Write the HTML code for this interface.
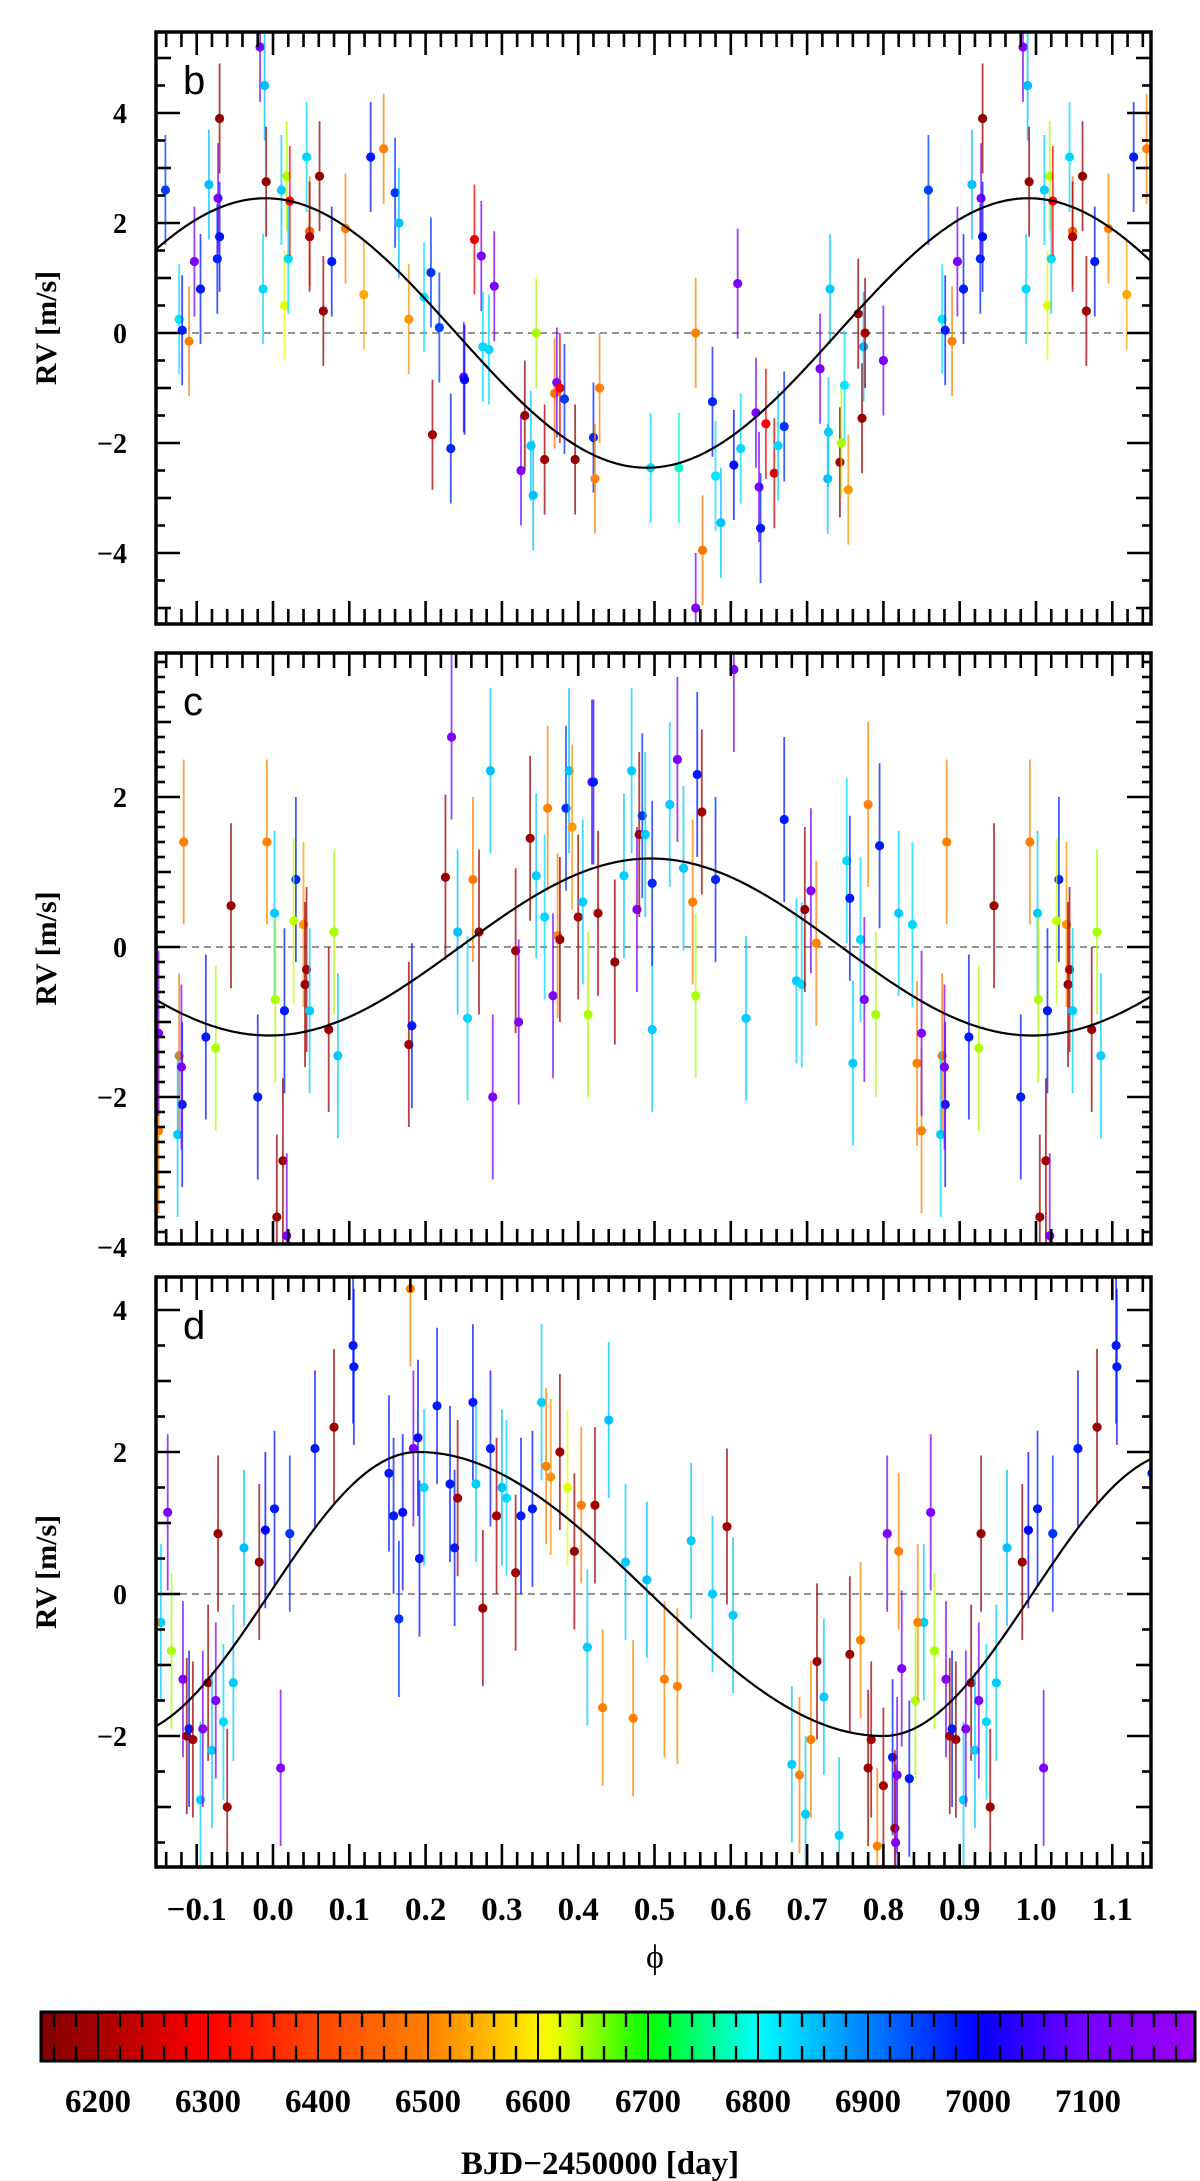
<!DOCTYPE html>
<html><head><meta charset="utf-8"><style>
html,body{margin:0;padding:0;background:#fff;}
svg{display:block;}
.tk{font-family:"Liberation Serif",serif;font-weight:bold;}
</style></head><body>
<svg id="chart" width="1200" height="2181" viewBox="0 0 1200 2181" xmlns="http://www.w3.org/2000/svg">
<defs>
<clipPath id="clipb"><rect x="156" y="32" width="995" height="592"/></clipPath>
<clipPath id="clipc"><rect x="156" y="653" width="995" height="591"/></clipPath>
<clipPath id="clipd"><rect x="156" y="1277" width="995" height="590"/></clipPath>
<linearGradient id="cmap" x1="0" x2="1" y1="0" y2="0"></linearGradient>
</defs>
</svg>
<script>
// ---------- data ----------
const bPhase=[0.859,0.877,0.897,0.905,0.916,0.927,0.928,0.930,0.930,0.983,0.987,0.989,0.991,0.011,0.015,0.018,0.020,0.022,0.044,0.048,0.048,0.061,0.066,0.077,0.095,0.119,0.128,0.145,0.160,0.165,0.178,0.198,0.207,0.209,0.218,0.233,0.250,0.251,0.264,0.273,0.275,0.283,0.290,0.325,0.330,0.338,0.341,0.345,0.356,0.369,0.372,0.376,0.382,0.396,0.420,0.422,0.428,0.495,0.532,0.554,0.554,0.563,0.576,0.580,0.587,0.604,0.613,0.633,0.637,0.639,0.646,0.657,0.662,0.670,0.717,0.727,0.728,0.730,0.743,0.745,0.749,0.754,0.772,0.774,0.776,0.800,0.609,0.881,0.890,0.767];
const bRV=[2.6,0.25,1.3,0.8,2.7,1.35,2.45,1.75,3.9,5.2,0.8,4.5,2.75,2.6,0.5,2.85,1.35,2.4,3.2,1.85,1.75,2.85,0.4,1.3,1.9,0.7,3.2,3.35,2.55,2.0,0.25,0.65,1.1,-1.85,0.1,-2.1,-0.8,-0.85,1.7,1.4,-0.25,-0.3,0.85,-2.5,-1.5,-2.05,-2.95,0.0,-2.3,-1.1,-0.9,-1.0,-1.2,-2.3,-1.9,-2.65,-1.0,-2.45,-2.45,0.0,-5.0,-3.95,-1.25,-2.6,-3.45,-2.4,-2.1,-1.45,-2.8,-3.55,-1.65,-2.55,-2.05,-1.7,-0.65,-2.65,-1.8,0.8,-2.35,-2.0,-0.95,-2.85,-1.55,-0.25,0.0,-0.5,0.9,0.05,-0.15,0.35];
const bTime=[6950,6820,7120,6980,6850,6970,7130,6990,6170,7110,6830,6850,6180,6840,6620,6640,6830,6300,6830,6450,6200,6180,6190,6980,6500,6540,6980,6500,6960,6850,6520,6820,6960,6200,6950,6970,7100,7000,6280,7120,6830,6830,7110,7120,6180,6840,6850,6640,6200,6480,7120,6300,6960,6170,6970,6500,6500,6830,6780,6500,7120,6480,6970,6820,6850,6990,6830,7110,7120,6980,6300,6260,6830,6960,7110,6850,6840,6840,6190,6640,6820,6520,6180,6860,6190,7110,7120,6980,6500,6180];

const cPhase=[0.850,0.877,0.881,0.875,0.883,0.880,0.912,0.925,0.945,0.980,0.992,0.002,0.003,0.005,0.013,0.018,0.015,0.030,0.027,0.040,0.042,0.044,0.048,0.073,0.080,0.085,0.178,0.182,0.226,0.234,0.242,0.255,0.262,0.270,0.285,0.288,0.318,0.322,0.337,0.345,0.356,0.360,0.367,0.373,0.376,0.384,0.388,0.392,0.400,0.406,0.413,0.418,0.420,0.426,0.448,0.460,0.470,0.477,0.480,0.484,0.488,0.497,0.497,0.520,0.530,0.538,0.550,0.554,0.556,0.562,0.580,0.604,0.620,0.670,0.686,0.693,0.697,0.705,0.712,0.752,0.756,0.760,0.770,0.775,0.780,0.790,0.795,0.820,0.838,0.844,0.850];
const cRV=[-2.45,-1.45,-2.1,-2.5,1.4,-1.6,-1.2,-1.35,0.55,-2.0,1.4,0.45,-0.7,-3.6,-2.85,-3.85,-0.85,0.9,0.35,0.3,-0.5,-0.3,-0.85,-1.1,0.2,-1.45,-1.3,-1.05,0.93,2.8,0.2,-0.95,0.9,0.2,2.35,-2.0,-0.05,-1.0,1.45,0.95,0.4,1.85,-0.65,0.15,0.1,1.85,2.35,1.6,0.4,0.6,-0.9,2.2,2.2,0.45,-0.2,0.95,2.35,0.5,1.5,1.75,1.5,-1.1,0.85,1.9,2.5,1.05,0.6,-0.65,2.3,1.8,0.9,3.7,-0.95,1.7,-0.45,-0.5,0.5,0.75,0.05,1.15,0.65,-1.55,0.1,-0.7,1.9,-0.9,1.35,0.45,0.3,-1.55,-1.15];
const cTime=[6500,6480,6980,6840,6500,7110,6980,6640,6190,6980,6500,6840,6640,6180,6190,7120,6980,6970,6630,6520,6190,6200,6840,6190,6640,6840,6190,6980,6190,7120,6850,6830,6500,6180,6850,7110,6190,7120,6190,6840,6830,6500,7120,6500,6180,6960,6850,6520,6200,6840,6640,7120,6980,6200,6180,6840,6840,7110,6190,6960,6840,6840,6970,6840,7120,6840,6500,6640,6980,6200,6970,7120,6840,6980,6840,6830,6180,7120,6500,6830,6980,6840,6830,7120,6500,6640,6980,6840,6830,6500,7120];

const dPhase=[0.853,0.862,0.867,0.882,0.887,0.890,0.895,0.905,0.908,0.915,0.920,0.925,0.928,0.935,0.940,0.948,0.962,0.982,0.990,0.002,0.010,0.022,0.055,0.080,0.105,0.106,0.152,0.158,0.165,0.170,0.180,0.184,0.190,0.192,0.198,0.215,0.232,0.238,0.242,0.262,0.266,0.275,0.285,0.293,0.300,0.306,0.318,0.325,0.340,0.352,0.358,0.364,0.376,0.386,0.395,0.404,0.412,0.422,0.432,0.440,0.462,0.472,0.490,0.513,0.530,0.548,0.576,0.595,0.603,0.680,0.690,0.698,0.705,0.713,0.722,0.742,0.756,0.770,0.780,0.784,0.792,0.800,0.805,0.812,0.815,0.816,0.818,0.820,0.824,0.834,0.842,0.845];
const dRV=[-0.4,1.15,-0.8,-1.2,-2.0,-1.9,-2.05,-2.9,-1.9,-1.25,-2.2,-1.5,0.85,-1.8,-3.0,-1.25,0.65,0.45,0.9,1.2,-2.45,0.85,2.05,2.35,3.5,3.2,1.7,1.1,-0.35,1.15,4.3,2.05,2.2,0.5,1.5,2.65,1.55,0.65,1.35,2.7,1.55,-0.2,2.05,1.1,1.5,1.35,0.3,1.1,1.2,2.7,1.8,1.65,2.0,1.5,0.6,1.25,-0.75,1.25,-1.6,2.45,0.45,-1.75,0.2,-1.2,-1.3,0.75,0.0,0.95,-0.3,-2.4,-2.55,-3.1,-2.05,-0.95,-1.45,-3.4,-0.85,-0.65,-2.45,-2.05,-3.55,-2.7,0.85,-2.3,-3.3,-3.5,-2.55,0.6,-1.05,-2.6,-1.5,-0.4];
const dTime=[6840,7110,6640,7120,6190,6980,6190,6840,7120,6190,6840,7120,6180,6830,6190,6840,6850,6180,7000,6980,7120,6960,6980,6190,6980,6980,6980,6980,6960,6990,6500,7110,6990,6990,6830,6980,6980,6980,6200,6980,6840,6190,6980,6200,6850,6830,6190,6980,6980,6840,6500,6520,6190,6620,6190,6500,6840,6200,6500,6850,6840,6500,6850,6500,6500,6840,6840,6190,6840,6840,6500,6840,6500,6190,6840,6840,6190,6500,6190,6200,6500,6200,7110,6980,6190,7110,7110,6500,7110,6980,6640,6500];

const xTicks=[-0.1,0.0,0.1,0.2,0.3,0.4,0.5,0.6,0.7,0.8,0.9,1.0,1.1];
const cbTicks=[6200,6300,6400,6500,6600,6700,6800,6900,7000,7100];
const bTicks=[4,2,0,-2,-4];
const cTicks=[2,0,-2,-4];
const dTicks=[4,2,0,-2];

// ---------- helpers ----------
const NS='http://www.w3.org/2000/svg';
const svg=document.getElementById('chart');
function mk(tag,attrs,parent){const e=document.createElementNS(NS,tag);for(const k in attrs)e.setAttribute(k,attrs[k]);(parent||svg).appendChild(e);return e;}
const X0=156,X1=1151;
function xs(p){return 273+763*p;}
const stops=[[6146,[128,0,0]],[6200,[165,0,0]],[6300,[255,0,0]],[6400,[255,70,0]],[6500,[255,128,0]],[6560,[255,190,0]],[6610,[255,255,0]],[6700,[0,255,0]],[6800,[0,255,255]],[6900,[0,128,255]],[7000,[0,0,255]],[7100,[120,0,255]],[7197,[155,0,240]]];
function cmap(t){
  if(t<=stops[0][0])return 'rgb('+stops[0][1]+')';
  for(let i=1;i<stops.length;i++){if(t<=stops[i][0]){const a=stops[i-1],b=stops[i];const f=(t-a[0])/(b[0]-a[0]);const c=a[1].map((v,j)=>Math.round(v+(b[1][j]-v)*f));return 'rgb('+c.join(',')+')';}}
  return 'rgb('+stops[stops.length-1][1]+')';
}

function panel(o){
  const ys=v=>o.y0-o.k*v;
  const g=mk('g',{});
  
  
  const z=mk('line',{x1:X0,x2:X1,y1:ys(0),y2:ys(0),stroke:'#555','stroke-width':1.3,'stroke-dasharray':'7,5'},g);
  
  
  const pts=mk('g',{'clip-path':'url(#'+o.clip+')'},g);
  
  
  const n=Math.min(o.ph.length,o.rv.length,o.tm.length);
  for(let i=0;i<n;i++){
    for(const s of [-1,0,1]){
      const p=o.ph[i]+s; if(p< -0.16||p>1.16)continue;
      const col=cmap(o.tm[i]);
      const x=xs(p),y=ys(o.rv[i]);
      const eb=mk('line',{x1:x,x2:x,y1:ys(o.rv[i]+o.err),y2:ys(o.rv[i]-o.err),stroke:col,'stroke-width':1.8,'stroke-opacity':0.75},pts);
      
      
      const c=mk('circle',{cx:x,cy:y,r:4.6,fill:col},pts);
      
      
    }
  }
  let d='';
  for(let x=X0;x<=X1;x+=2){const p=(x-273)/763;d+=(d?'L':'M')+x+','+ys(o.model(p)).toFixed(1);}
  const cv=mk('path',{d:d,fill:'none',stroke:'#000','stroke-width':2.2,'clip-path':'url(#'+o.clip+')'},g);
  
  
  const fr=mk('rect',{x:X0,y:o.top,width:X1-X0,height:o.bot-o.top,fill:'none',stroke:'#000','stroke-width':3.5},g);
  
  
  for(let j=-8;j<=57;j++){const p=j*0.02;const x=xs(p);if(x<X0+2||x>X1-2)continue;const L=(j%5===0)?23:15;
    mk('line',{x1:x,x2:x,y1:o.bot,y2:o.bot-L,stroke:'#000','stroke-width':2.6},g);
    mk('line',{x1:x,x2:x,y1:o.top,y2:o.top+L,stroke:'#000','stroke-width':2.6},g);}
  for(let j=-60;j<=60;j++){const v=j*o.minor;const y=ys(v);if(y<o.top+2||y>o.bot-2)continue;
    const r=Math.round(v*1000)/1000;let L=9;if(Math.abs(r%2)<1e-6)L=24;else if(Math.abs(r%1)<1e-6)L=15;
    mk('line',{x1:X0,x2:X0+L,y1:y,y2:y,stroke:'#000','stroke-width':2.6},g);
    mk('line',{x1:X1,x2:X1-L,y1:y,y2:y,stroke:'#000','stroke-width':2.6},g);}
  for(const t of o.ticks){const tx=mk('text',{x:127,y:ys(t)+10,'text-anchor':'end','font-size':28,class:'tk'},g);tx.textContent=(t<0?'\u2212':'')+Math.abs(t);
    
    }
  const lt=mk('text',{x:183,y:o.top+62,'font-size':40,'font-family':'"Liberation Sans",sans-serif'},g);lt.textContent=o.letter;
  
  
  const yl=mk('text',{x:0,y:0,transform:'translate(56,'+((o.top+o.bot)/2)+') rotate(-90)','text-anchor':'middle','font-size':30,class:'tk'},g);yl.textContent='RV [m/s]';
  
  
}

panel({name:'panel-b',clip:'clipb',top:32,bot:624,y0:333,k:55,minor:0.5,ticks:bTicks,letter:'b',ph:bPhase,rv:bRV,tm:bTime,err:1.0,
  model:p=>2.45*Math.cos(2*Math.PI*(p-0.99))});
panel({name:'panel-c',clip:'clipc',top:653,bot:1244,y0:947,k:75,minor:0.2,ticks:cTicks,letter:'c',ph:cPhase,rv:cRV,tm:cTime,err:1.1,
  model:p=>1.18*Math.cos(2*Math.PI*(p-0.495))});
panel({name:'panel-d',clip:'clipd',top:1277,bot:1867,y0:1594,k:71,minor:0.5,ticks:dTicks,letter:'d',ph:dPhase,rv:dRV,tm:dTime,err:1.1,
  model:p=>{let t=((p-0.19)%1+1)%1; if(t<=0.61)return 2*Math.cos(Math.PI*t/0.61); return -2*Math.cos(Math.PI*(t-0.61)/0.39);}});

for(const t of xTicks){const tx=mk('text',{x:xs(t),y:1920,'text-anchor':'middle','font-size':33,class:'tk'});tx.textContent=(t<0?'\u2212':'')+Math.abs(t).toFixed(1);
  
  }
const xl=mk('text',{x:655,y:1968,'text-anchor':'middle','font-size':34,'font-family':'"Liberation Serif",serif'});xl.textContent='\u03d5';



const CB0=41,CB1=1195,cbx=t=>978+(t-7000)*1.1;
const tmin=7000+(CB0-978)/1.1,tmax=7000+(CB1-978)/1.1;
const grad=document.getElementById('cmap');
for(let i=0;i<=60;i++){const t=tmin+(tmax-tmin)*i/60;mk('stop',{offset:(i/60),'stop-color':cmap(t)},grad);}
const cb=mk('rect',{x:CB0,y:2012,width:CB1-CB0,height:49,fill:'url(#cmap)',stroke:'#000','stroke-width':3});


for(let t=6160;t<=7180;t+=20){const x=cbx(t);if(x<CB0+3||x>CB1-3)continue;
  if(t%100===0){mk('line',{x1:x,x2:x,y1:2012,y2:2061,stroke:'#000','stroke-width':2});}
  else{mk('line',{x1:x,x2:x,y1:2012,y2:2027,stroke:'#000','stroke-width':2.4});mk('line',{x1:x,x2:x,y1:2046,y2:2061,stroke:'#000','stroke-width':2.4});}}
for(const t of cbTicks){const tx=mk('text',{x:cbx(t),y:2112,'text-anchor':'middle','font-size':33,class:'tk'});tx.textContent=t;
  
  }
const ct=mk('text',{x:600,y:2174,'text-anchor':'middle','font-size':33,class:'tk'});ct.textContent='BJD\u22122450000 [day]';


</script>
</body></html>
